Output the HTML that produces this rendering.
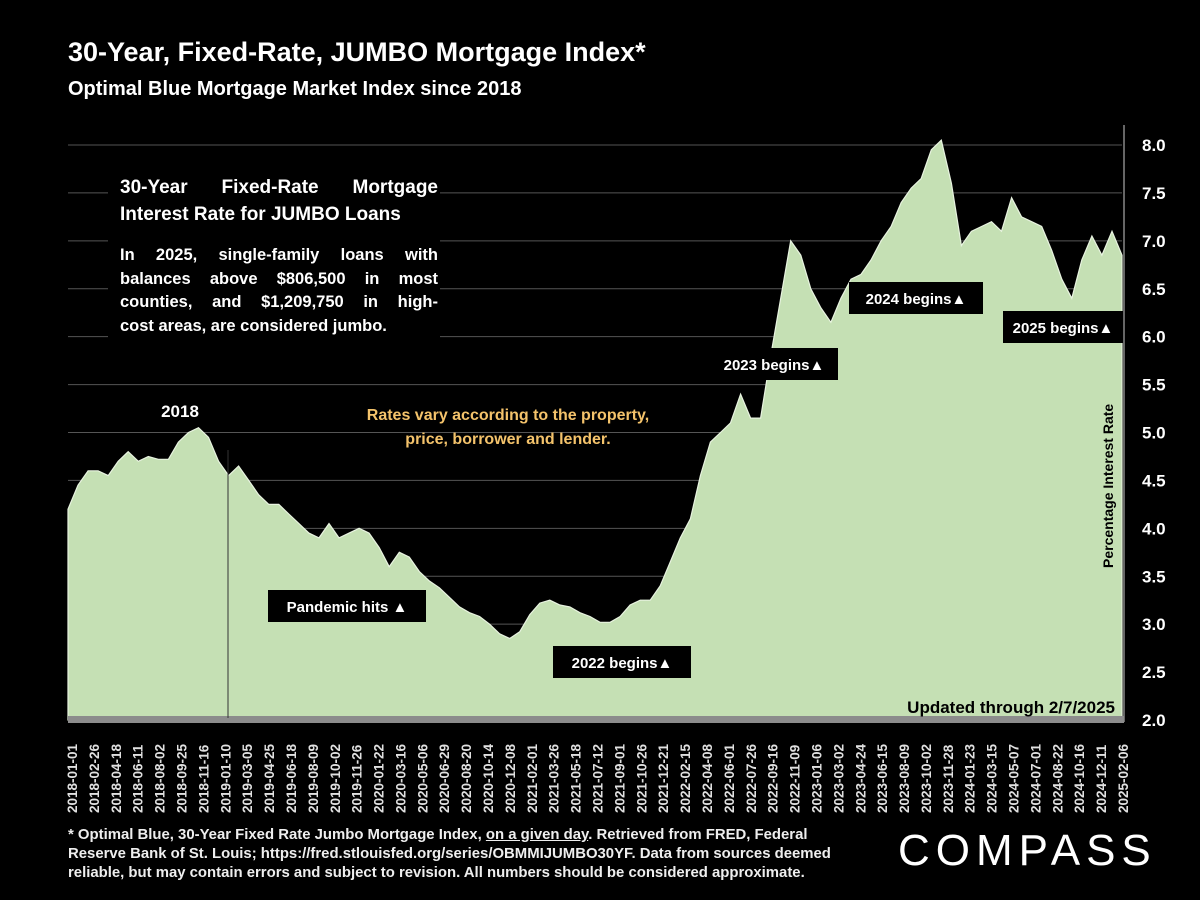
<!DOCTYPE html>
<html><head><meta charset="utf-8"><style>
html,body{margin:0;padding:0;background:#000;color:#fff;}
#wrap{position:relative;width:1200px;height:900px;overflow:hidden;background:#000;font-family:"Liberation Sans",sans-serif;color:#fff;}
.t{position:absolute;font-weight:bold;color:#fff;font-family:"Liberation Sans",sans-serif;}
.j{text-align:justify;text-align-last:justify;white-space:nowrap;}
.l{text-align:left;white-space:nowrap;}
</style></head><body>
<div id="wrap">
<div class="t" style="left:68px;top:37px;font-size:27px;">30-Year, Fixed-Rate, JUMBO Mortgage Index*</div>
<div class="t" style="left:68px;top:78px;font-size:20px;">Optimal Blue Mortgage Market Index since 2018</div>
<svg id="chart" width="1200" height="900" style="position:absolute;left:0;top:0"></svg>
<div style="position:absolute;left:108px;top:168px;width:332px;height:178px;background:#000;"></div>
<div class="t" style="left:120px;top:174px;width:318px;font-size:19px;line-height:27px;">
<div class="j">30-Year Fixed-Rate Mortgage</div><div class="l">Interest Rate for JUMBO Loans</div></div>
<div class="t" style="left:120px;top:244px;width:318px;font-size:16.5px;line-height:23.5px;">
<div class="j">In 2025, single-family loans with</div><div class="j">balances above $806,500 in most</div><div class="j">counties, and $1,209,750 in high-</div><div class="l">cost areas, are considered jumbo.</div></div>
<div class="t" style="left:898px;top:826px;font-size:44px;font-weight:normal;letter-spacing:6px;">COMPASS</div>
<div class="t" style="left:68px;top:826px;width:800px;font-size:14.9px;line-height:19px;color:#eee;white-space:nowrap;">* Optimal Blue, 30-Year Fixed Rate Jumbo Mortgage Index, <u>on a given day</u>. Retrieved from FRED, Federal<br>Reserve Bank of St. Louis; https://fred.stlouisfed.org/series/OBMMIJUMBO30YF. Data from sources deemed<br>reliable, but may contain errors and subject to revision. All numbers should be considered approximate.</div>
</div>
<script>
const tickLabels=["2018-01-01","2018-02-26","2018-04-18","2018-06-11","2018-08-02","2018-09-25","2018-11-16","2019-01-10","2019-03-05","2019-04-25","2019-06-18","2019-08-09","2019-10-02","2019-11-26","2020-01-22","2020-03-16","2020-05-06","2020-06-29","2020-08-20","2020-10-14","2020-12-08","2021-02-01","2021-03-26","2021-05-18","2021-07-12","2021-09-01","2021-10-26","2021-12-21","2022-02-15","2022-04-08","2022-06-01","2022-07-26","2022-09-16","2022-11-09","2023-01-06","2023-03-02","2023-04-24","2023-06-15","2023-08-09","2023-10-02","2023-11-28","2024-01-23","2024-03-15","2024-05-07","2024-07-01","2024-08-22","2024-10-16","2024-12-11","2025-02-06"];
const yTicks=[2.0,2.5,3.0,3.5,4.0,4.5,5.0,5.5,6.0,6.5,7.0,7.5,8.0];
const rates=[4.2,4.45,4.6,4.6,4.55,4.7,4.8,4.7,4.75,4.72,4.72,4.9,5.0,5.05,4.95,4.7,4.55,4.65,4.5,4.35,4.25,4.25,4.15,4.05,3.95,3.9,4.05,3.9,3.95,4.0,3.95,3.8,3.6,3.75,3.7,3.55,3.45,3.38,3.28,3.18,3.12,3.08,3.0,2.9,2.85,2.92,3.1,3.22,3.25,3.2,3.18,3.12,3.08,3.02,3.02,3.08,3.2,3.25,3.25,3.4,3.65,3.9,4.1,4.55,4.9,5.0,5.1,5.4,5.15,5.15,5.8,6.4,7.0,6.85,6.5,6.3,6.15,6.4,6.6,6.65,6.8,7.0,7.15,7.4,7.55,7.65,7.95,8.05,7.6,6.95,7.1,7.15,7.2,7.1,7.45,7.25,7.2,7.15,6.9,6.6,6.4,6.8,7.05,6.85,7.1,6.85];
const NS="http://www.w3.org/2000/svg";
const svg=document.getElementById('chart');
const X0=68,X1=1122,Y8=145,Y2=720;
const yS=v=>Y2-(v-2)*(Y2-Y8)/6;
const xS=i=>X0+i*(X1-X0)/(rates.length-1);
const xT=i=>72+i*(1123-72)/(tickLabels.length-1);
function mk(tag,attrs){const e=document.createElementNS(NS,tag);for(const k in attrs)e.setAttribute(k,attrs[k]);svg.appendChild(e);return e;}
yTicks.forEach(v=>{
 if(v>2){const g=mk('line',{x1:X0,x2:X1,y1:yS(v),y2:yS(v),stroke:'#555','stroke-width':1});
 
 }
 const t=mk('text',{x:1142,y:yS(v)+6,fill:'#fff','font-size':17,'font-weight':'bold','font-family':'Liberation Sans, sans-serif'});
 t.textContent=v.toFixed(1);
 
 
});
let d='M'+X0+','+Y2;
rates.forEach((v,i)=>{d+=' L'+xS(i).toFixed(1)+','+yS(v).toFixed(1);});
d+=' L'+X1+','+Y2+' Z';
const area=mk('path',{d:d,fill:'#c5e0b4',stroke:'#e8f3e0','stroke-width':1.2});


const band=mk('rect',{x:X0,y:716,width:X1-X0+2,height:7,fill:'#8c8c8c'});


const ax=mk('line',{x1:1124,x2:1124,y1:125,y2:722,stroke:'#888','stroke-width':1.5});


const vl=mk('line',{x1:228,x2:228,y1:450,y2:718,stroke:'#333','stroke-width':1});


tickLabels.forEach((s,i)=>{
 const t=mk('text',{transform:`translate(${xT(i)+5},813) rotate(-90)`,fill:'#e0e0e0','font-size':13.5,'font-weight':'bold','font-family':'Liberation Sans, sans-serif'});
 t.textContent=s;
 
 
});
const yt=mk('text',{transform:'translate(1113,568) rotate(-90)',fill:'#000','font-size':14,'font-weight':'bold','font-family':'Liberation Sans, sans-serif'});
yt.textContent='Percentage Interest Rate';


const boxes=[["Pandemic hits ▲",268,590,158,32,'pandemic-label'],["2022 begins▲",553,646,138,32,'label-2022'],["2023 begins▲",710,348,128,32,'label-2023'],["2024 begins▲",849,282,134,32,'label-2024'],["2025 begins▲",1003,311,120,32,'label-2025']];
boxes.forEach(b=>{
 const r=mk('rect',{x:b[1],y:b[2],width:b[3],height:b[4],fill:'#000'});
 
 
 const t=mk('text',{x:b[1]+b[3]/2,y:b[2]+22,fill:'#fff','font-size':15,'font-weight':'bold','text-anchor':'middle','font-family':'Liberation Sans, sans-serif'});
 t.textContent=b[0];
 
 
});
const texts=[["2018",180,417,17,'#fff','middle','label-2018'],["Rates vary according to the property,",508,420,16,'#f4c36b','middle','note-line1'],["price, borrower and lender.",508,444,16,'#f4c36b','middle','note-line2'],["Updated through 2/7/2025",1115,713,17,'#000','end','updated-note']];
texts.forEach(a=>{
 const t=mk('text',{x:a[1],y:a[2],fill:a[4],'font-size':a[3],'font-weight':'bold','text-anchor':a[5],'font-family':'Liberation Sans, sans-serif'});
 t.textContent=a[0];
 
 
});
</script>
</body></html>
